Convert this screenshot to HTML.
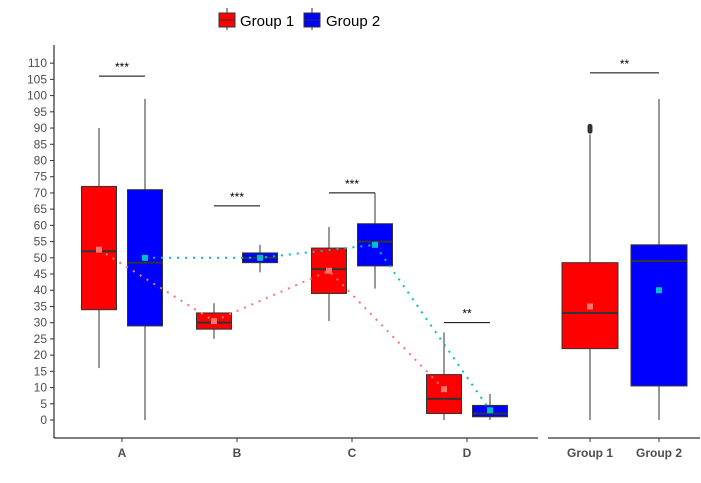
<!DOCTYPE html>
<html><head><meta charset="utf-8"><style>body{margin:0;background:#fff}svg{display:block;font-family:"Liberation Sans",Arial,sans-serif}</style></head>
<body>
<svg id="c" width="701" height="483" viewBox="0 0 701 483">
<g>
<line x1="227" y1="8" x2="227" y2="30" stroke="#333"/><rect x="219" y="13" width="16" height="14" fill="#f00" stroke="#333"/><line x1="219" y1="20" x2="235" y2="20" stroke="#333"/>
<text x="240" y="26" font-size="15" fill="#000">Group 1</text>
<line x1="312" y1="8" x2="312" y2="30" stroke="#333"/><rect x="304" y="13" width="16" height="14" fill="#00f" stroke="#333"/><line x1="304" y1="20" x2="320" y2="20" stroke="#333"/>
<text x="326" y="26" font-size="15" fill="#000">Group 2</text>
</g>
<line x1="54" y1="45" x2="54" y2="438" stroke="#000"/>
<line x1="54" y1="438" x2="538" y2="438" stroke="#000"/>
<line x1="548" y1="438" x2="700" y2="438" stroke="#000"/>
<g id="g"></g>
</svg>
<script>
const categories=["A","B","C","D"];
const g1Min=[16,25,30.5,0], g1Q1=[34,28,39,2], g1Med=[52,30,46.5,6.5], g1Q3=[72,33,53,14], g1Max=[90,36,59.5,27], g1Mean=[52.5,30.5,46,9.5];
const g2Min=[0,45.5,40.5,0], g2Q1=[29,48.5,47.5,1], g2Med=[48.5,50,55,2], g2Q3=[71,51.5,60.5,4.5], g2Max=[99,54,70,8], g2Mean=[50,50,54,3];
const sigLabels=["***","***","***","**"], sigHeights=[106,66,70,30];
const totalGroups=["Group 1","Group 2"];
const totMin=[0,0], totQ1=[22,10.5], totMed=[33,49], totQ3=[48.5,54], totMax=[88,99], totMean=[35,40];
const totOutliers=[[89,89.5,90,90.5],[]];
const totSig="**", totSigHeight=107;
const yTicks=[0,5,10,15,20,25,30,35,40,45,50,55,60,65,70,75,80,85,90,95,100,105,110];

const NS="http://www.w3.org/2000/svg", G=document.getElementById('g');
const y=v=>420-3.244*v;
const xc=i=>122+i*115;
const xt=i=>590+i*69;
function el(t,a,p){const e=document.createElementNS(NS,t);for(const k in a)e.setAttribute(k,a[k]);(p||G).appendChild(e);return e;}
yTicks.forEach(v=>{
 const t=el('line',{x1:50,x2:54,y1:y(v),y2:y(v),stroke:'#333'});
 
 
 const l=el('text',{x:47,y:y(v)+4,'font-size':12,fill:'#4d4d4d','text-anchor':'end'});l.textContent=v;
 
 
});
function box(cx,w,mn,q1,md,q3,mx,fill,name){
 const g=el('g',{});
 
 
 el('line',{x1:cx,x2:cx,y1:y(mx),y2:y(mn),stroke:'#333'},g);
 el('rect',{x:cx-w/2,y:y(q3),width:w,height:y(q1)-y(q3),fill:fill,stroke:'#333'},g);
 el('line',{x1:cx-w/2,x2:cx+w/2,y1:y(md),y2:y(md),stroke:'#333','stroke-width':2},g);
}
function sig(x1,x2,v,txt){
 const l=el('line',{x1:x1,x2:x2,y1:y(v),y2:y(v),stroke:'#000'});
 
 
 const t=el('text',{x:(x1+x2)/2,y:y(v)-5,'font-size':12,'text-anchor':'middle',fill:'#000'});t.textContent=txt;
 
 
}
categories.forEach((c,i)=>{
 box(xc(i)-23,35,g1Min[i],g1Q1[i],g1Med[i],g1Q3[i],g1Max[i],'#f00','box-'+c+'-group1');
 box(xc(i)+23,35,g2Min[i],g2Q1[i],g2Med[i],g2Q3[i],g2Max[i],'#00f','box-'+c+'-group2');
 sig(xc(i)-23,xc(i)+23,sigHeights[i],sigLabels[i]);
 const t=el('line',{x1:xc(i),x2:xc(i),y1:438,y2:442,stroke:'#333'});
 
 
 const l=el('text',{x:xc(i),y:457,'font-size':12,'font-weight':'bold',fill:'#4d4d4d','text-anchor':'middle'});l.textContent=c;
 
 
});
const p1=el('polyline',{points:g1Mean.map((v,i)=>(xc(i)-23)+','+y(v)).join(' '),fill:'none',stroke:'#F8766D','stroke-width':2,'stroke-dasharray':'2 6'});


const p2=el('polyline',{points:g2Mean.map((v,i)=>(xc(i)+23)+','+y(v)).join(' '),fill:'none',stroke:'#00BFC4','stroke-width':2,'stroke-dasharray':'2 6'});


categories.forEach((c,i)=>{
 const a=el('rect',{x:xc(i)-23-3,y:y(g1Mean[i])-3,width:6,height:6,fill:'#F8766D'});
 
 
 const b=el('rect',{x:xc(i)+23-3,y:y(g2Mean[i])-3,width:6,height:6,fill:'#00BFC4'});
 
 
});
totalGroups.forEach((gname,i)=>{
 box(xt(i),56,totMin[i],totQ1[i],totMed[i],totQ3[i],totMax[i],i?'#00f':'#f00','box-total-group'+(i+1));
 totOutliers[i].forEach(v=>{const o=el('circle',{cx:xt(i),cy:y(v),r:2.5,fill:'#333'});
  
  });
 const m=el('rect',{x:xt(i)-3,y:y(totMean[i])-3,width:6,height:6,fill:i?'#00BFC4':'#F8766D'});
 
 
 const t=el('line',{x1:xt(i),x2:xt(i),y1:438,y2:442,stroke:'#333'});
 
 
 const l=el('text',{x:xt(i),y:457,'font-size':12,'font-weight':'bold',fill:'#4d4d4d','text-anchor':'middle'});l.textContent=gname;
 
 
});
sig(xt(0),xt(1),totSigHeight,totSig);
</script>
</body></html>
